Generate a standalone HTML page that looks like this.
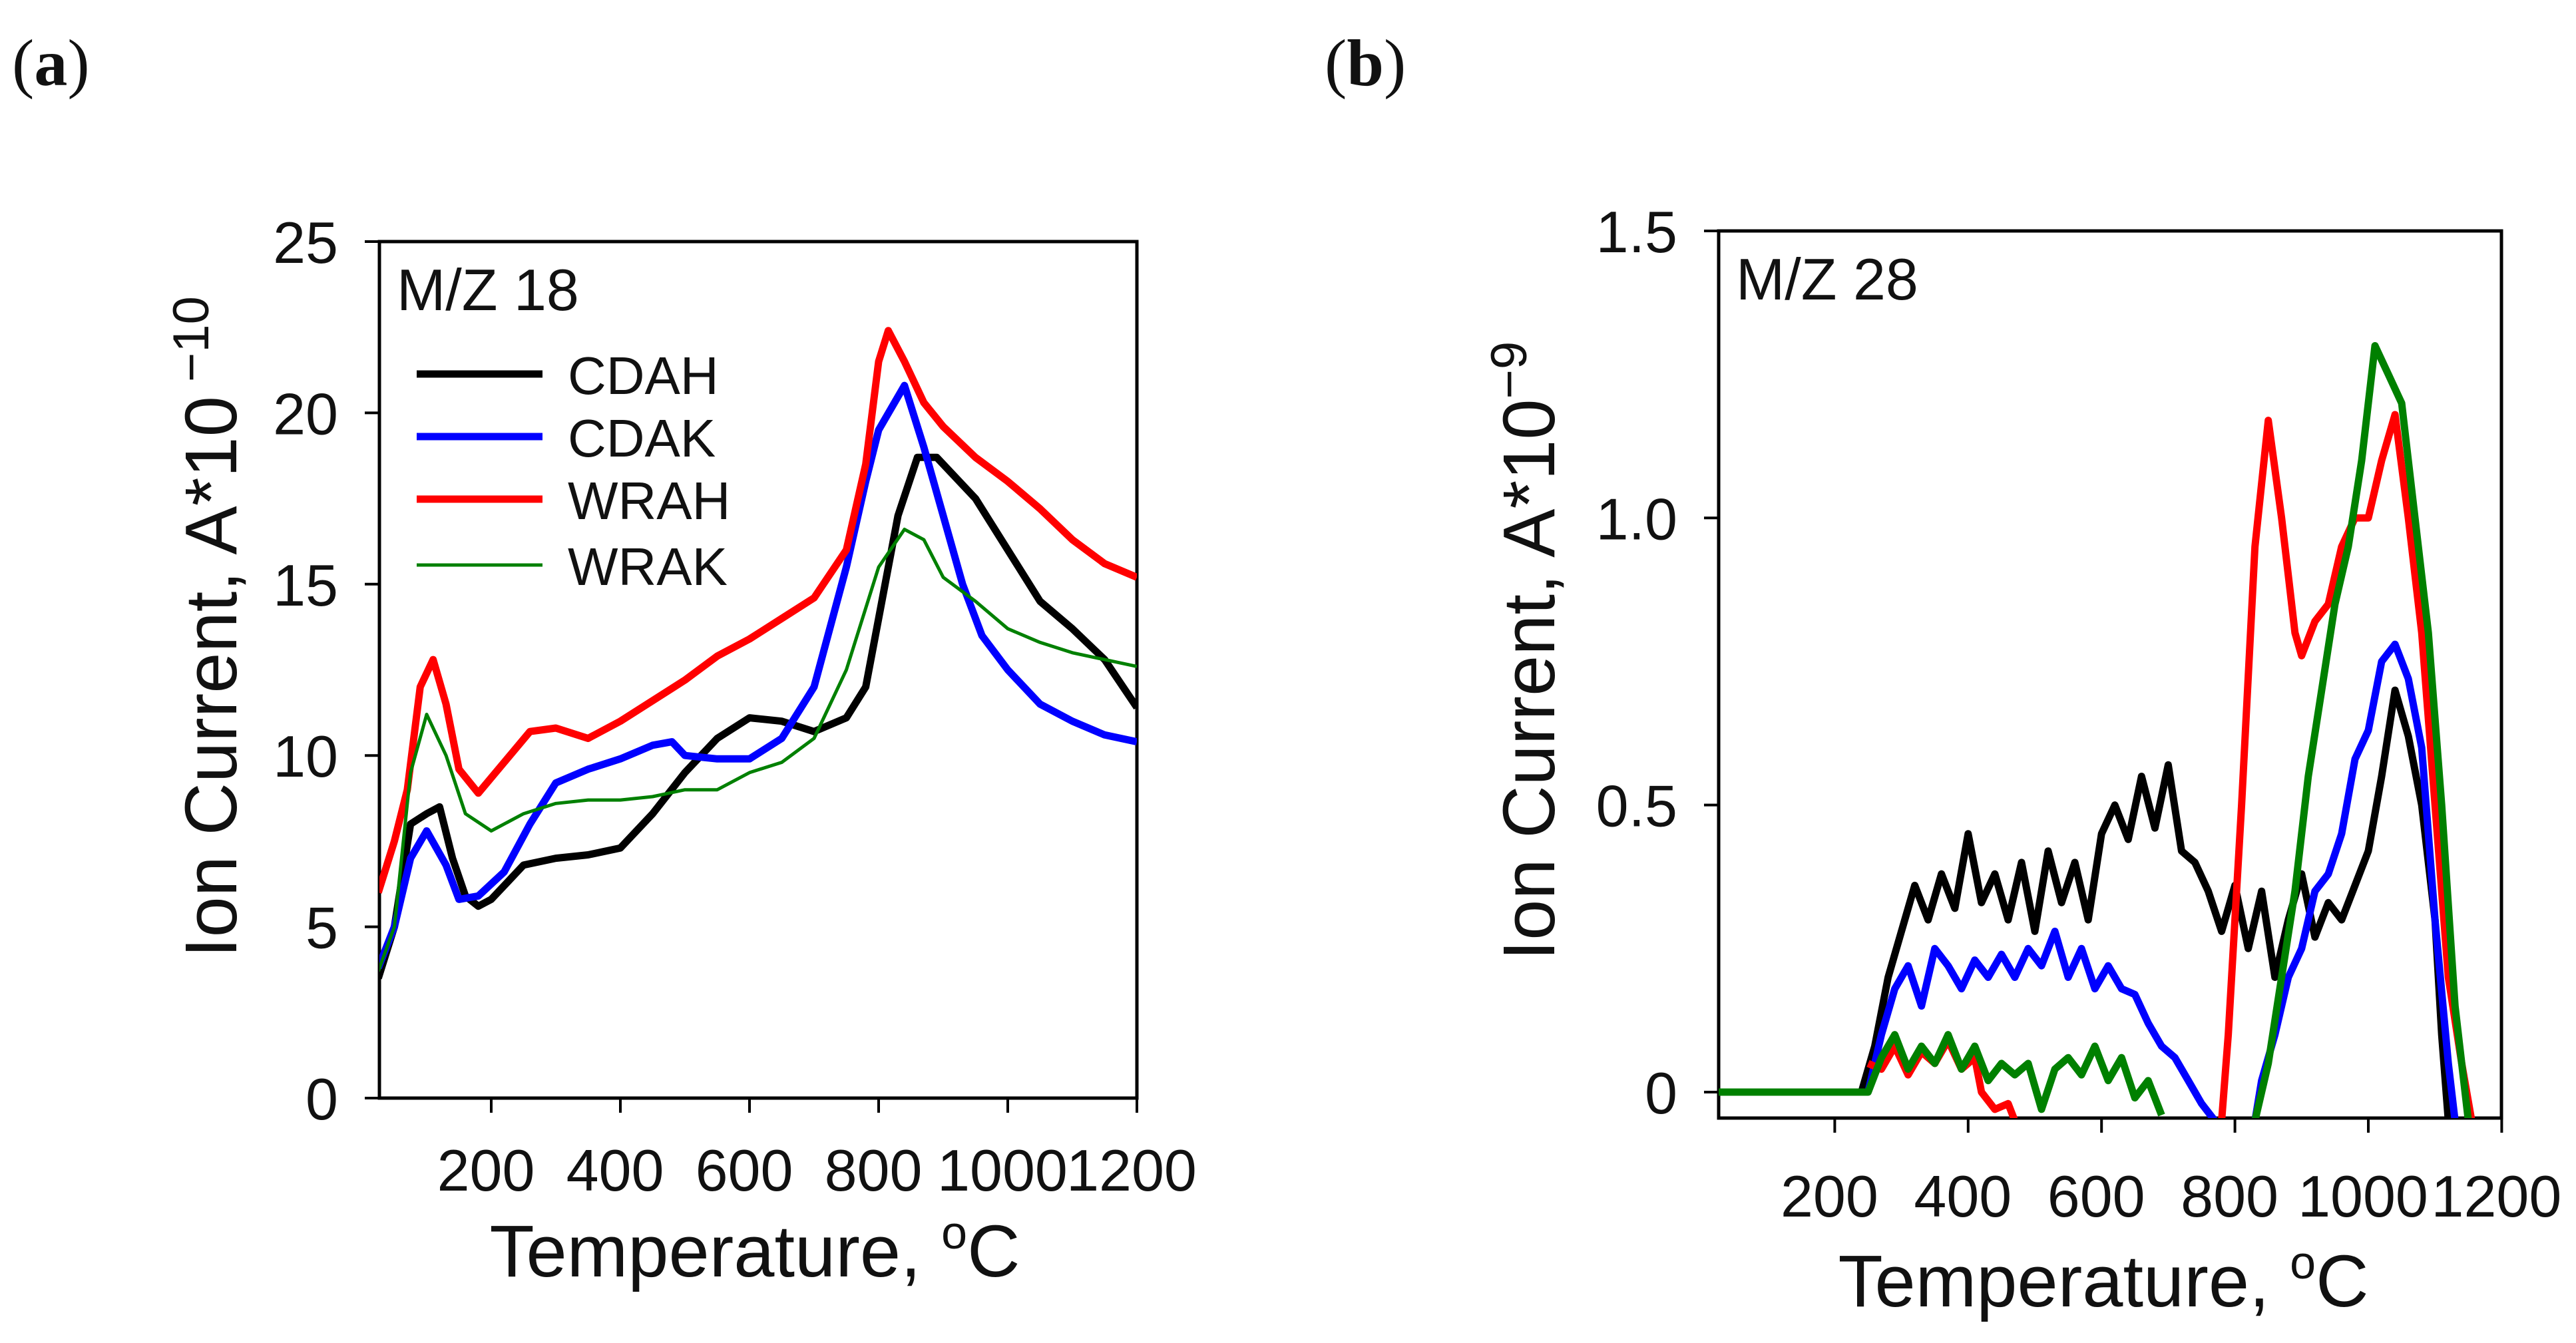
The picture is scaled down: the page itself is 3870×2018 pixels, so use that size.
<!DOCTYPE html>
<html><head><meta charset="utf-8"><style>
body{margin:0;background:#fff;width:3870px;height:2018px;overflow:hidden}
svg{display:block}
text{font-family:"Liberation Sans",sans-serif;fill:#111}
</style></head><body>
<svg id="fig" width="3870" height="2018" xmlns="http://www.w3.org/2000/svg">
<text x="18" y="128" style="font-family:'Liberation Serif',serif;font-size:100px">(<tspan font-weight="bold">a</tspan>)</text>
<text x="1990" y="128" style="font-family:'Liberation Serif',serif;font-size:100px">(<tspan font-weight="bold">b</tspan>)</text>
<g id="pa"></g>
<g id="pb"></g>
</svg>
<script>
// ---- Panel A data (M/Z 18) ----
const aCDAHx=[25,50,75,100,120,140,160,180,200,250,300,350,400,450,500,550,600,650,700,750,780,800,830,860,890,950,1000,1050,1100,1150,1200];
const aCDAHy=[3.5,5,8,8.3,8.5,7,5.9,5.6,5.8,6.8,7.0,7.1,7.3,8.3,9.5,10.5,11.1,11.0,10.7,11.1,12,14,17,18.7,18.7,17.5,16,14.5,13.7,12.8,11.4];
const aCDAKx=[25,50,75,100,130,150,180,220,260,300,350,400,450,480,500,550,600,650,700,750,780,800,840,870,900,930,960,1000,1050,1100,1150,1200];
const aCDAKy=[3.8,5,7,7.8,6.8,5.8,5.9,6.6,8,9.2,9.6,9.9,10.3,10.4,10,9.9,9.9,10.5,12,15.5,18,19.5,20.8,19,17,15,13.5,12.5,11.5,11,10.6,10.4];
const aWRAHx=[25,50,70,90,110,130,150,180,220,260,300,350,400,450,500,550,600,650,700,750,780,800,815,840,870,900,950,1000,1050,1100,1150,1200];
const aWRAHy=[6,7.5,9,12,12.8,11.5,9.6,8.9,9.8,10.7,10.8,10.5,11,11.6,12.2,12.9,13.4,14,14.6,16,18.5,21.5,22.4,21.5,20.3,19.6,18.7,18,17.2,16.3,15.6,15.2];
const aWRAKx=[25,50,75,100,130,160,200,250,300,350,400,450,500,550,600,650,700,750,800,840,870,900,950,1000,1050,1100,1150,1200];
const aWRAKy=[3.7,5,9.5,11.2,10,8.3,7.8,8.3,8.6,8.7,8.7,8.8,9.0,9.0,9.5,9.8,10.5,12.5,15.5,16.6,16.3,15.2,14.5,13.7,13.3,13.0,12.8,12.6];
const aYTicks=[0,5,10,15,20,25];
const aXTicks=[200,400,600,800,1000,1200];
const seriesNames=["CDAH","CDAK","WRAH","WRAK"];
// ---- Panel B data (M/Z 28); null = gap ----
const bCDAHx=[22,240,260,280,300,320,340,360,380,400,420,440,460,480,500,520,540,560,580,600,620,640,660,680,700,720,740,760,780,800,820,840,860,880,900,920,940,960,980,1000,1020,1040,1060,1080,1100,1110,1120];
const bCDAHy=[0,0,0.08,0.2,0.28,0.36,0.3,0.38,0.32,0.45,0.33,0.38,0.3,0.4,0.28,0.42,0.33,0.4,0.3,0.45,0.5,0.44,0.55,0.46,0.57,0.42,0.4,0.35,0.28,0.36,0.25,0.35,0.2,0.3,0.38,0.27,0.33,0.3,0.36,0.42,0.55,0.7,0.62,0.5,0.3,0.1,-0.05];
const bCDAKx=[250,270,290,310,330,350,370,390,410,430,450,470,490,510,530,550,570,590,610,630,650,670,690,710,730,750,770,null,830,840,860,880,900,920,940,960,980,1000,1020,1040,1060,1080,1100,1120,1130];
const bCDAKy=[0,0.1,0.18,0.22,0.15,0.25,0.22,0.18,0.23,0.2,0.24,0.2,0.25,0.22,0.28,0.2,0.25,0.18,0.22,0.18,0.17,0.12,0.08,0.06,0.02,-0.02,-0.05,null,-0.05,0.02,0.1,0.2,0.25,0.35,0.38,0.45,0.58,0.63,0.75,0.78,0.72,0.6,0.3,0.05,-0.05];
const bWRAHx=[250,270,290,310,330,350,370,390,410,420,440,460,470,null,780,790,810,830,850,870,880,890,900,920,940,960,980,1000,1020,1040,1060,1080,1100,1120,1140,1155];
const bWRAHy=[0.05,0.04,0.08,0.03,0.07,0.05,0.09,0.04,0.06,0,-0.03,-0.02,-0.05,null,-0.05,0.1,0.5,0.95,1.17,1.0,0.9,0.8,0.76,0.82,0.85,0.95,1.0,1.0,1.1,1.18,1.0,0.8,0.5,0.2,0.05,-0.05];
const bWRAKx=[22,250,270,290,310,330,350,370,390,410,430,450,470,490,510,530,550,570,590,610,630,650,670,690,null,830,850,870,890,910,930,950,970,990,1010,1030,1050,1070,1090,1110,1130,1150];
const bWRAKy=[0,0,0.06,0.1,0.04,0.08,0.05,0.1,0.04,0.08,0.02,0.05,0.03,0.05,-0.03,0.04,0.06,0.03,0.08,0.02,0.06,-0.01,0.02,-0.04,null,-0.05,0.05,0.2,0.35,0.55,0.7,0.85,0.95,1.1,1.3,1.25,1.2,1.0,0.8,0.5,0.15,-0.05];
const bYTicks=[0,0.5,1.0,1.5];
const bYTickLabels=["0","0.5","1.0","1.5"];
const bXTicks=[200,400,600,800,1000,1200];
const colors=["#000","#00f","#f00","#008000"];

const NS="http://www.w3.org/2000/svg";
function mk(parent,tag,attrs,txt){const e=document.createElementNS(NS,tag);for(const k in attrs)e.setAttribute(k,attrs[k]);if(txt!=null)e.textContent=txt;parent.appendChild(e);return e;}

function drawPanel(g,cfg){
  const sx=v=>cfg.x0+v*cfg.kx, sy=v=>cfg.y0-v*cfg.ky;
  const cid='clip'+cfg.id;
  const cp=mk(g,'clipPath',{id:cid});
  mk(cp,'rect',{x:cfg.L,y:cfg.T,width:cfg.R-cfg.L,height:cfg.B-cfg.T});
  const fr=mk(g,'rect',{x:cfg.L,y:cfg.T,width:cfg.R-cfg.L,height:cfg.B-cfg.T,fill:'none',stroke:'#000','stroke-width':5});
  
  
  cfg.yt.forEach((v,i)=>{
    const t=mk(g,'line',{x1:cfg.L-22,x2:cfg.L,y1:sy(v),y2:sy(v),stroke:'#000','stroke-width':4});
    
    
    const l=mk(g,'text',{x:cfg.L-62,y:sy(v)+32,'text-anchor':'end','font-size':88},cfg.ytl[i]);
    
    
  });
  cfg.xt.forEach(v=>{
    const t=mk(g,'line',{x1:sx(v),x2:sx(v),y1:cfg.B,y2:cfg.B+22,stroke:'#000','stroke-width':4});
    
    
    const l=mk(g,'text',{x:sx(v)-8,y:cfg.xly,'text-anchor':'middle','font-size':88},String(v));
    
    
  });
  const xt=mk(g,'text',{x:cfg.xtx,y:cfg.xty,'text-anchor':'middle','font-size':110},'Temperature, ');
  mk(xt,'tspan',{'font-size':70,dy:-42},'o');
  mk(xt,'tspan',{dy:42},'C');
  
  
  const yt=mk(g,'text',{x:0,y:0,'text-anchor':'middle','font-size':110,transform:`translate(${cfg.ytx},${cfg.yty}) rotate(-90)`},'Ion Current, A*10');
  mk(yt,'tspan',{'font-size':76,dy:-42},cfg.exp);
  
  
  const tt=mk(g,'text',{x:cfg.L+26,y:cfg.T+103,'font-size':88},cfg.title);
  
  
  const sg=mk(g,'g',{'clip-path':`url(#${cid})`});
  cfg.series.forEach((s,i)=>{
    let d='',pen=false;
    for(let j=0;j<s.x.length;j++){
      if(s.x[j]==null){pen=false;continue;}
      d+=(pen?'L':'M')+sx(s.x[j]).toFixed(1)+' '+sy(s.y[j]).toFixed(1);pen=true;
    }
    const p=mk(sg,'path',{d:d,fill:'none',stroke:colors[i],'stroke-width':s.w,'stroke-linejoin':'round'});
    
    
  });
}
drawPanel(document.getElementById('pa'),{id:'a',L:570,R:1708,T:363,B:1650,x0:544,kx:0.970,y0:1650,ky:51.48,
  yt:aYTicks,ytl:aYTicks.map(String),xt:aXTicks,xly:1789,xtx:1134,xty:1918,ytx:355,yty:942,exp:' \u221210',title:'M/Z 18',
  series:[{x:aCDAHx,y:aCDAHy,w:11},{x:aCDAKx,y:aCDAKy,w:11},{x:aWRAHx,y:aWRAHy,w:11},{x:aWRAKx,y:aWRAKy,w:5}]});
drawPanel(document.getElementById('pb'),{id:'b',L:2582,R:3758,T:347,B:1680,x0:2556,kx:1.002,y0:1641,ky:862.7,
  yt:bYTicks,ytl:bYTickLabels,xt:bXTicks,xly:1828,xtx:3160,xty:1963,ytx:2335,yty:978,exp:'\u22129',title:'M/Z 28',
  series:[{x:bCDAHx,y:bCDAHy,w:11},{x:bCDAKx,y:bCDAKy,w:11},{x:bWRAHx,y:bWRAHy,w:11},{x:bWRAKx,y:bWRAKy,w:11}]});
// legend panel A
const pa=document.getElementById('pa');
const legY=[562,656,750,849];
seriesNames.forEach((n,i)=>{
  const ln=mk(pa,'line',{x1:626,x2:815,y1:legY[i],y2:legY[i],stroke:colors[i],'stroke-width':i==3?5:11});
  
  
  const t=mk(pa,'text',{x:853,y:legY[i]+30,'font-size':80},n);
  
  
});
</script>
</body></html>
